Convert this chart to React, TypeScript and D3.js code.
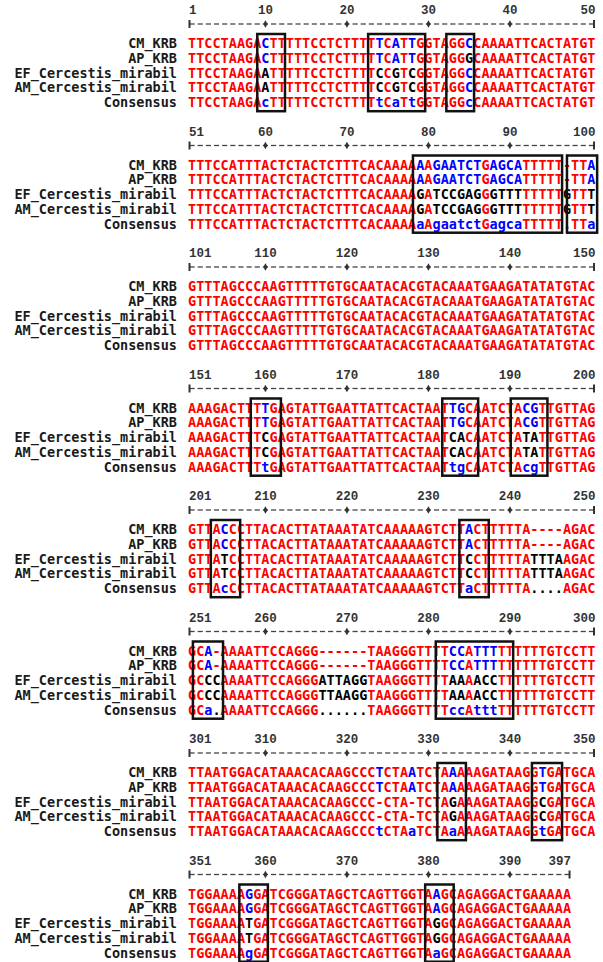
import React, { useEffect, useRef } from 'react';
import * as d3 from 'd3';

const W = 603;
const H = 962;

const names = ['CM_KRB', 'AP_KRB', 'EF_Cercestis_mirabil', 'AM_Cercestis_mirabil', 'Consensus'];

const blockStarts = [1, 51, 101, 151, 201, 251, 301, 351];
const blockLengths = [50, 50, 50, 50, 50, 50, 50, 47];

// shared stretches
const b2Head = 'TTTCCATTTACTCTACTCTTTCACAAA';
const b3All = 'GTTTAGCCCAAGTTTTTGTGCAATACACGTACAAATGAAGATATATGTAC';
const b4Mid = 'AGTATTGAATTATTCACTA';
const b5Mid = 'CTTACACTTATAAATATCAAAAAGTCT';
const b7Head = 'TTAATGGACATAAACACAAGCCC';
const b8Mid = 'TCGGGATAGCTCAGTTGGT';

const CM_KRB = [
  'TTCCTAAG' + 'A' + 'C' + 'TT' + 'TTTCCTCTT' + 'TT' + 'TCATT' + 'GGTAGG' + 'C' + 'CAAAATTCACTATGT',
  b2Head + 'AAAGAATCTGAGCATTTTT' + '-' + 'TTA',
  b3All,
  'AAAGACT' + 'TTTG' + b4Mid + 'ATTGC' + 'AATC' + 'TACGT' + 'TGTTAG',
  'GT' + 'TACC' + b5Mid + 'TACT' + 'TTTTA----AGAC',
  'GCA-' + 'AAAATTCCAGGG' + '------' + 'TAAGGGTT' + 'TTCCATTTT' + 'TTTTTGTCCTT',
  b7Head + 'TCTAATC' + 'TAAA' + 'AAGATAAG' + 'GTGA' + 'TGCA',
  'TGGAAA' + 'AGGA' + b8Mid + 'AAG' + 'CAGAGGACTGAAAAA',
];

const AP_KRB = [
  'TTCCTAAG' + 'A' + 'C' + 'TT' + 'TTTCCTCTT' + 'TT' + 'TCATT' + 'GGTAGG' + 'G' + 'CAAAATTCACTATGT',
  CM_KRB[1], CM_KRB[2], CM_KRB[3], CM_KRB[4], CM_KRB[5], CM_KRB[6], CM_KRB[7],
];

const EF_CERCESTIS = [
  'TTCCTAAG' + 'A' + 'A' + 'TT' + 'TTTCCTCTT' + 'TT' + 'CCGTC' + 'GGTAGG' + 'C' + 'CAAAATTCACTATGT',
  b2Head + 'AGATCCGAGGGTTTTTTTT' + 'G' + 'TTT',
  b3All,
  'AAAGACT' + 'TTCG' + b4Mid + 'ATCAC' + 'AATC' + 'TATAT' + 'TGTTAG',
  'GT' + 'TATC' + b5Mid + 'TCCT' + 'TTTTATTTAAGAC',
  'GCCC' + 'AAAATTCCAGGG' + 'ATTAGG' + 'TAAGGGTT' + 'TTAAAACCT' + 'TTTTTGTCCTT',
  b7Head + '-CTA-TC' + 'TAGA' + 'AAGATAAG' + 'GCGA' + 'TGCA',
  'TGGAAA' + 'ATGA' + b8Mid + 'AGG' + 'CAGAGGACTGAAAAA',
];

const AM_CERCESTIS = [
  EF_CERCESTIS[0], EF_CERCESTIS[1], EF_CERCESTIS[2], EF_CERCESTIS[3], EF_CERCESTIS[4],
  'GCCC' + 'AAAATTCCAGGG' + 'TTAAGG' + 'TAAGGGTT' + 'TTAAAACCT' + 'TTTTTGTCCTT',
  EF_CERCESTIS[6], EF_CERCESTIS[7],
];

const CONSENSUS = [
  'TTCCTAAG' + 'A' + 'c' + 'TT' + 'TTTCCTCTT' + 'TT' + 'tCaTt' + 'GGTAGG' + 'c' + 'CAAAATTCACTATGT',
  b2Head + 'AaAgaatctGagcaTTTTT' + '.' + 'TTa',
  b3All,
  'AAAGACT' + 'TTtG' + b4Mid + 'ATtgC' + 'AATC' + 'TAcgT' + 'TGTTAG',
  'GT' + 'TAcC' + b5Mid + 'TaCT' + 'TTTTA....AGAC',
  'GCa.' + 'AAAATTCCAGGG' + '......' + 'TAAGGGTT' + 'TTccAtttT' + 'TTTTTGTCCTT',
  b7Head + 'tCTAaTC' + 'TAaA' + 'AAGATAAG' + 'GtGA' + 'TGCA',
  'TGGAAA' + 'AgGA' + b8Mid + 'AaG' + 'CAGAGGACTGAAAAA',
];

// hand-drawn boxes: [block, left edge, right edge] in column units
const boxes: [number, number, number][] = [
  [0, 8.5, 11.9], [0, 22.1, 29.1], [0, 31.7, 35.1],
  [1, 27.6, 45.9], [1, 46.5, 50.2],
  [3, 7.7, 11.4], [3, 31.2, 35.6], [3, 39.6, 44.1],
  [4, 2.8, 6.4], [4, 33.3, 36.9],
  [5, 0.6, 4.3], [5, 30.4, 39.9],
  [6, 30.6, 34.1], [6, 42.2, 45.9],
  [7, 6.3, 9.8], [7, 29.1, 32.6],
];

const RED = '#ff0000';
const BLUE = '#0000ff';
const BLACK = '#000000';
const SEQ_FONT = '"DejaVu Sans Mono", monospace';

export default function App() {
  const svgRef = useRef<SVGSVGElement>(null);

  useEffect(() => {
    if (!svgRef.current) return;
    const svg = d3.select(svgRef.current);
    svg.selectAll('*').remove();

    svg.append('rect').attr('width', W).attr('height', H).attr('fill', '#fff');

    const x = d3.scaleLinear().domain([0, 50]).range([188, 188 + 50 * 8.15]);
    const blockY = d3.scaleLinear().domain([0, 7]).range([11, 11 + 7 * 121.5]);
    const rowY = d3.scaleLinear().domain([0, 4]).range([32, 32 + 4 * 14.8]);
    const seqs = [CM_KRB, AP_KRB, EF_CERCESTIS, AM_CERCESTIS];

    blockStarts.forEach((start, b) => {
      const n = blockLengths[b];
      const g = svg.append('g').attr('transform', `translate(0,${blockY(b)})`);

      // ruler numbers
      const labels: { text: string; anchor: string; px: number }[] = [];
      labels.push({ text: String(start), anchor: 'start', px: x(0) + 1 });
      for (let i = 1; i < n - 1; i++) {
        if ((start + i) % 10 === 0) labels.push({ text: String(start + i), anchor: 'middle', px: x(i + 0.5) });
      }
      labels.push({ text: String(start + n - 1), anchor: 'end', px: x(n) });

      g.selectAll('.num')
        .data(labels)
        .join('text')
        .attr('class', 'num')
        .attr('x', d => d.px)
        .attr('y', 0)
        .attr('text-anchor', d => d.anchor)
        .attr('dominant-baseline', 'central')
        .attr('font-family', '"Liberation Mono", monospace')
        .attr('font-weight', 'bold')
        .attr('font-size', 12.5)
        .attr('fill', '#333')
        .text(d => d.text);

      // ruler line
      const ry = 13;
      g.selectAll('.dash')
        .data(d3.range(n))
        .join('line')
        .attr('class', 'dash')
        .attr('x1', i => x(i) + 1.5)
        .attr('x2', i => x(i + 1) - 1.5)
        .attr('y1', ry)
        .attr('y2', ry)
        .attr('stroke', '#444')
        .attr('stroke-width', 1.3);

      g.selectAll('.tick')
        .data(d3.range(n).filter(i => (start + i) % 10 === 0 && i < n - 1))
        .join('path')
        .attr('class', 'tick')
        .attr('transform', i => `translate(${x(i + 0.5)},${ry})`)
        .attr('d', d3.symbol().type(d3.symbolDiamond).size(16)())
        .attr('fill', '#333');

      [x(0) + 1.5, x(n) - 1.5].forEach(px => {
        g.append('line')
          .attr('x1', px).attr('x2', px)
          .attr('y1', ry - 4).attr('y2', ry + 4)
          .attr('stroke', '#333')
          .attr('stroke-width', 2);
      });

      // row names
      g.selectAll('.name')
        .data(names)
        .join('text')
        .attr('class', 'name')
        .attr('x', 177)
        .attr('y', (_, r) => rowY(r))
        .attr('text-anchor', 'end')
        .attr('dominant-baseline', 'central')
        .attr('font-family', SEQ_FONT)
        .attr('font-weight', 'bold')
        .attr('font-size', 13.5)
        .attr('fill', '#1a1a1a')
        .text(d => d);

      // residues
      const cells: { r: number; i: number; ch: string; color: string }[] = [];
      for (let i = 0; i < n; i++) {
        const col = seqs.map(s => s[b][i]);
        const cons = CONSENSUS[b][i];
        const same = col.every(c => c === col[0]) && col[0] !== '-';
        col.forEach((ch, r) => {
          let color = BLACK;
          if (ch === '-' || same) color = RED;
          else if (cons !== '.' && ch.toUpperCase() === cons.toUpperCase()) color = BLUE;
          cells.push({ r, i, ch, color });
        });
        cells.push({
          r: 4,
          i,
          ch: cons,
          color: cons === '.' ? BLACK : cons === cons.toUpperCase() ? RED : BLUE,
        });
      }

      g.selectAll('.res')
        .data(cells)
        .join('text')
        .attr('class', 'res')
        .attr('x', d => x(d.i + 0.5))
        .attr('y', d => rowY(d.r))
        .attr('text-anchor', 'middle')
        .attr('dominant-baseline', 'central')
        .attr('font-family', SEQ_FONT)
        .attr('font-weight', 'bold')
        .attr('font-size', 13.5)
        .attr('fill', d => d.color)
        .text(d => d.ch);

      // boxes
      g.selectAll('.box')
        .data(boxes.filter(bx => bx[0] === b))
        .join('rect')
        .attr('class', 'box')
        .attr('x', d => x(d[1]))
        .attr('width', d => x(d[2]) - x(d[1]))
        .attr('y', rowY(0) - 9)
        .attr('height', rowY(4) - rowY(0) + 18)
        .attr('fill', 'none')
        .attr('stroke', '#111')
        .attr('stroke-width', 2.5);
    });
  }, []);

  return (
    <svg
      ref={svgRef}
      width={W}
      height={H}
      style={{ position: 'absolute', left: 0, top: 0, background: '#fff' }}
    />
  );
}
